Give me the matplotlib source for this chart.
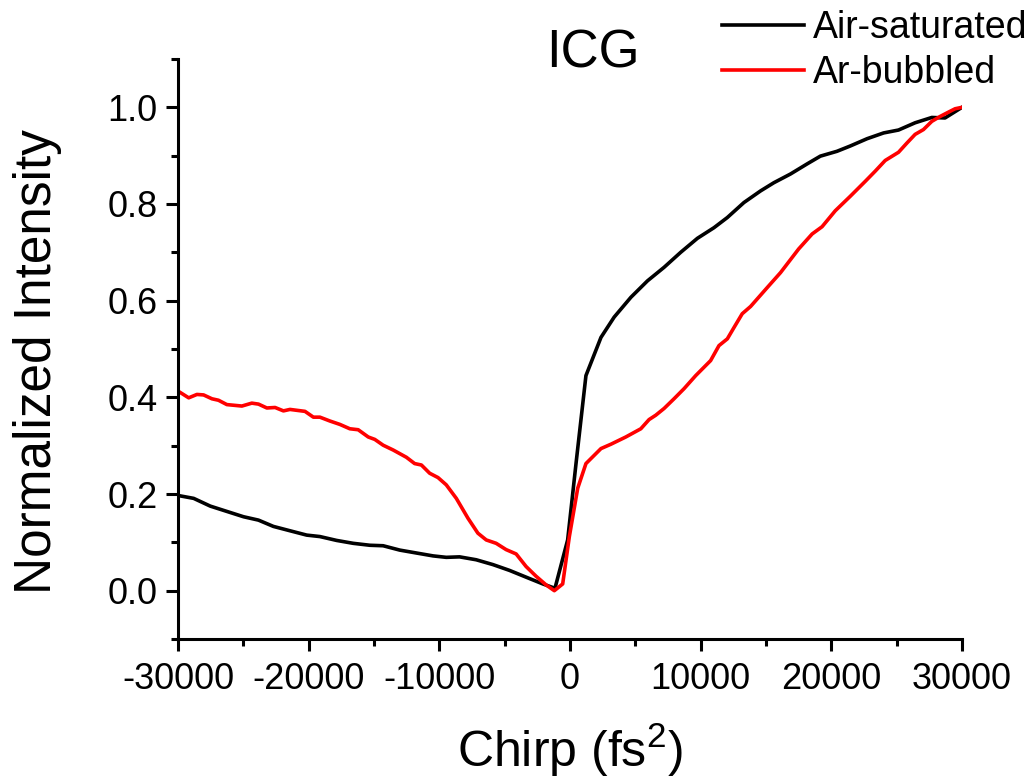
import matplotlib
matplotlib.use("Agg")
import matplotlib.pyplot as plt
from matplotlib.ticker import MultipleLocator, FormatStrFormatter

plt.rcParams["font.family"] = ["Liberation Sans", "DejaVu Sans"]
plt.rcParams["axes.unicode_minus"] = False
plt.rcParams["mathtext.fontset"] = "custom"
plt.rcParams["mathtext.rm"] = "Liberation Sans"
plt.rcParams["mathtext.it"] = "Liberation Sans:italic"
plt.rcParams["mathtext.default"] = "regular"

# chirp scan, air-saturated sample
air_chirp = [-30000, -28800, -27530, -26260, -24985, -23840, -22700, -21430, -20150,
             -19140, -17860, -16590, -15320, -14300, -13030, -11760, -10480, -9470,
             -8450, -7180, -5900, -4630, -3360, -2080, -1150, -180, 460, 1220, 2370,
             3380, 4660, 5930, 7200, 8470, 9750, 11020, 12040, 13310, 14580, 15600,
             16870, 18150, 19160, 20430, 21450, 22730, 24000, 25140, 26410, 27690,
             28700, 30000]
air_int = [0.197, 0.191, 0.175, 0.164, 0.153, 0.146, 0.133, 0.124, 0.115,
           0.112, 0.104, 0.098, 0.094, 0.093, 0.084, 0.078, 0.072, 0.069,
           0.070, 0.064, 0.054, 0.042, 0.028, 0.014, 0.005, 0.105, 0.263, 0.445, 0.524,
           0.566, 0.607, 0.641, 0.669, 0.700, 0.729, 0.751, 0.772, 0.803, 0.827, 0.844,
           0.862, 0.883, 0.899, 0.909, 0.920, 0.935, 0.947, 0.953, 0.968, 0.979,
           0.978, 1.0]

# chirp scan, Ar-bubbled sample
ar_chirp = [-30000, -29180, -28550, -28040, -27400, -26900, -26260, -25110, -24350,
            -23840, -23200, -22570, -21930, -21430, -20280, -19640, -19140, -18370,
            -17610, -16850, -16210, -15440, -14940, -14300, -13530, -12520, -11890,
            -11370, -10740, -10100, -9470, -8700, -7810, -7050, -6410, -5650, -4890,
            -4120, -3360, -2600, -1830, -1200, -560, -50, 590, 1220, 2370, 3130, 4270,
            5420, 6050, 6560, 7200, 7960, 8730, 9620, 10760, 11400, 12040, 12540,
            13180, 13820, 15090, 16110, 17500, 18530, 19290, 20300, 21450, 22600,
            23360, 24120, 25140, 25780, 26410, 27050, 27690, 28320, 28960, 29470, 30000]
ar_int = [0.413, 0.399, 0.406, 0.405, 0.397, 0.394, 0.385, 0.382, 0.388,
          0.386, 0.378, 0.379, 0.372, 0.375, 0.371, 0.359, 0.359, 0.351,
          0.344, 0.335, 0.333, 0.318, 0.313, 0.301, 0.291, 0.276, 0.263,
          0.260, 0.243, 0.234, 0.219, 0.191, 0.150, 0.119, 0.105, 0.098, 0.085,
          0.076, 0.050, 0.030, 0.012, 0.0, 0.014, 0.112, 0.212, 0.263, 0.294, 0.303, 0.318,
          0.335, 0.354, 0.363, 0.377, 0.397, 0.418, 0.445, 0.476, 0.507, 0.521, 0.544,
          0.573, 0.588, 0.627, 0.658, 0.707, 0.738, 0.753, 0.786, 0.816, 0.847,
          0.868, 0.890, 0.907, 0.926, 0.944, 0.954, 0.971, 0.981, 0.990, 0.997, 1.0]

fig = plt.figure(figsize=(10.3, 7.76), dpi=100)
ax = fig.add_axes([0.1728, 0.1765, 0.7612, 0.7475])

ax.plot(air_chirp, air_int, color="black", lw=2.6, label="Air-saturated")
ax.plot(ar_chirp, ar_int, color="#ff0000", lw=2.6, label="Ar-bubbled")

ax.set_xlim(-30000, 30000)
ax.set_ylim(-0.1, 1.1)
ax.xaxis.set_major_locator(MultipleLocator(10000))
ax.xaxis.set_minor_locator(MultipleLocator(5000))
ax.yaxis.set_major_locator(MultipleLocator(0.2))
ax.yaxis.set_minor_locator(MultipleLocator(0.1))
ax.yaxis.set_major_formatter(FormatStrFormatter("%.1f"))

for side in ("top", "right"):
    ax.spines[side].set_visible(False)
for side in ("left", "bottom"):
    ax.spines[side].set_linewidth(2.2)

ax.tick_params(which="major", direction="out", length=8.5, width=2.2, labelsize=26)
ax.tick_params(axis="y", which="major", pad=6)
ax.tick_params(axis="x", which="major", pad=8)
ax.tick_params(which="minor", direction="out", length=5, width=2.2)

ax.set_xlabel("Chirp (fs$^2$)", fontsize=36)
ax.set_ylabel("Normalized Intensity", fontsize=37)
ax.xaxis.set_label_coords(0.5, -0.141)
ax.yaxis.set_label_coords(-0.148, 0.478)

fig.text(593 / 1030, 1 - 54 / 776, "ICG", fontsize=38, ha="center", va="center")

ax.legend(loc="upper left", bbox_to_anchor=(0.697, 0.9916),
          bbox_transform=fig.transFigure, frameon=False, fontsize=27,
          handlelength=2.2, handletextpad=0.24, labelspacing=0.23,
          borderpad=0.1, borderaxespad=0)

fig.savefig("out.png", dpi=100)
